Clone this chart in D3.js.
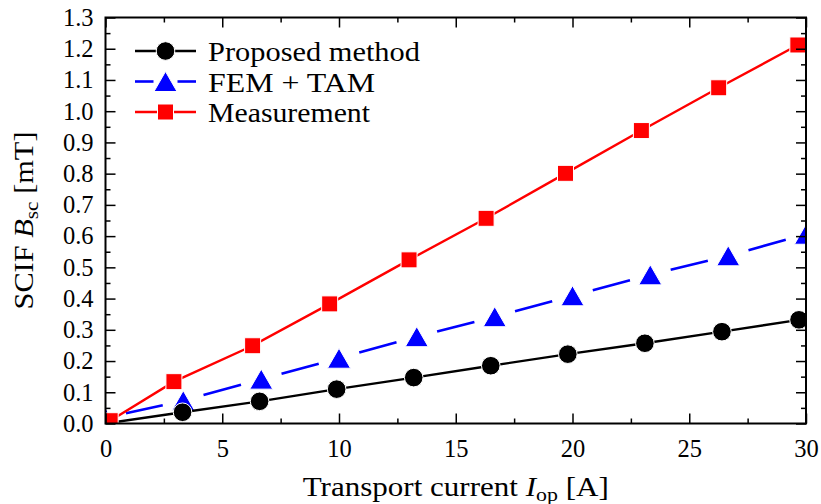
<!DOCTYPE html>
<html>
<head>
<meta charset="utf-8">
<script src="https://cdn.jsdelivr.net/npm/d3@7"></script>
<style>
  html, body { margin: 0; padding: 0; background: #fff; }
  svg { display: block; font-family: "Liberation Serif", "Times New Roman", serif; }
</style>
</head>
<body>
<svg id="chart" width="821" height="504"></svg>
<script>
// ---- Data ----
const proposedX = [0, 3.3, 6.6, 9.9, 13.2, 16.5, 19.8, 23.1, 26.4, 29.7];
const proposedY = [0, 0.036, 0.071, 0.11, 0.147, 0.185, 0.222, 0.257, 0.294, 0.332];

const femX = [0, 3.33, 6.67, 10, 13.33, 16.67, 20, 23.33, 26.67, 30];
const femY = [0.018, 0.073, 0.142, 0.209, 0.278, 0.342, 0.409, 0.476, 0.537, 0.606];

const measX = [0.2, 2.93, 6.3, 9.6, 13.0, 16.3, 19.7, 22.95, 26.26, 29.65];
const measY = [0.009, 0.134, 0.249, 0.383, 0.524, 0.657, 0.801, 0.938, 1.075, 1.212];

const seriesNames = ["Proposed method", "FEM + TAM", "Measurement"];

const xTicks = [0, 5, 10, 15, 20, 25, 30];
const xMinor = [2.5, 7.5, 12.5, 17.5, 22.5, 27.5];
const yTicks = [0, 0.1, 0.2, 0.3, 0.4, 0.5, 0.6, 0.7, 0.8, 0.9, 1.0, 1.1, 1.2, 1.3];
const yMinor = [0.05, 0.15, 0.25, 0.35, 0.45, 0.55, 0.65, 0.75, 0.85, 0.95, 1.05, 1.15, 1.25];

// ---- Layout ----
const L = 105.5, R = 806, T = 17.5, B = 423.5;
const svg = d3.select("#chart");
const x = d3.scaleLinear().domain([0, 30]).range([L, R]);
const y = d3.scaleLinear().domain([0, 1.3]).range([B, T]);

const zip = (xs, ys) => xs.map((v, i) => [v, ys[i]]);
const proposed = zip(proposedX, proposedY);
const fem = zip(femX, femY);
const meas = zip(measX, measY);

svg.append("defs").append("clipPath").attr("id", "clip")
  .append("rect").attr("x", L).attr("y", T).attr("width", R - L).attr("height", B - T);

const plot = svg.append("g").attr("clip-path", "url(#clip)");
const line = d3.line().x(d => x(d[0])).y(d => y(d[1]));

const triPath = (w, h) => `M0,${-h/2}L${w/2},${h/2}L${-w/2},${h/2}Z`;

// FEM + TAM: dashed, with gaps centred on markers
const gap = 21;
for (let i = 0; i < fem.length - 1; i++) {
  const a = fem[i], b = fem[i + 1];
  const len = Math.hypot(x(b[0]) - x(a[0]), y(b[1]) - y(a[1]));
  plot.append("path")
    .attr("d", line([a, b]))
    .attr("fill", "none").attr("stroke", "#0000ff").attr("stroke-width", 2.6)
    .attr("stroke-dasharray", `0,${gap},${Math.max(len - 2 * gap, 0)},${gap}`);
}
plot.selectAll(".tri").data(fem).enter().append("path")
  .attr("transform", d => `translate(${x(d[0])},${y(d[1])})`)
  .attr("d", triPath(23, 20))
  .attr("fill", "#0000ff").attr("stroke", "#fff").attr("stroke-width", 1);

// Proposed method: solid black with circles
plot.append("path").attr("d", line(proposed))
  .attr("fill", "none").attr("stroke", "#000").attr("stroke-width", 2.4);
plot.selectAll(".circ").data(proposed).enter().append("circle")
  .attr("cx", d => x(d[0])).attr("cy", d => y(d[1])).attr("r", 9.3)
  .attr("fill", "#000").attr("stroke", "#fff").attr("stroke-width", 1);

// Measurement: solid red with squares
plot.append("path").attr("d", line(meas))
  .attr("fill", "none").attr("stroke", "#ff0000").attr("stroke-width", 2.4);
plot.selectAll(".sq").data(meas).enter().append("rect")
  .attr("x", d => x(d[0]) - 8).attr("y", d => y(d[1]) - 8)
  .attr("width", 16).attr("height", 16)
  .attr("fill", "#ff0000").attr("stroke", "#fff").attr("stroke-width", 1);

// ---- Axes ----
function styleAxis(g) {
  g.select(".domain").remove();
  g.selectAll(".tick line").attr("stroke", "#000").attr("stroke-width", 1.5);
  g.selectAll("text").attr("font-family", "Liberation Serif, serif").attr("font-size", 24.5).attr("fill", "#000");
}
svg.append("g").attr("transform", `translate(0,${B})`)
  .call(d3.axisBottom(x).tickValues(xTicks).tickSizeInner(-10).tickSizeOuter(0).tickPadding(16).tickFormat(d3.format("d")))
  .call(styleAxis);
svg.append("g").attr("transform", `translate(0,${B})`)
  .call(d3.axisBottom(x).tickValues(xMinor).tickSizeInner(-5).tickSizeOuter(0).tickFormat(""))
  .call(styleAxis);
svg.append("g").attr("transform", `translate(0,${T})`)
  .call(d3.axisTop(x).tickValues(xTicks).tickSizeInner(-10).tickSizeOuter(0).tickFormat(""))
  .call(styleAxis);
svg.append("g").attr("transform", `translate(0,${T})`)
  .call(d3.axisTop(x).tickValues(xMinor).tickSizeInner(-5).tickSizeOuter(0).tickFormat(""))
  .call(styleAxis);
svg.append("g").attr("transform", `translate(${L},0)`)
  .call(d3.axisLeft(y).tickValues(yTicks).tickSizeInner(-10).tickSizeOuter(0).tickPadding(12).tickFormat(d3.format(".1f")))
  .call(styleAxis);
svg.append("g").attr("transform", `translate(${L},0)`)
  .call(d3.axisLeft(y).tickValues(yMinor).tickSizeInner(-5).tickSizeOuter(0).tickFormat(""))
  .call(styleAxis);
svg.append("g").attr("transform", `translate(${R},0)`)
  .call(d3.axisRight(y).tickValues(yTicks).tickSizeInner(-10).tickSizeOuter(0).tickFormat(""))
  .call(styleAxis);
svg.append("g").attr("transform", `translate(${R},0)`)
  .call(d3.axisRight(y).tickValues(yMinor).tickSizeInner(-5).tickSizeOuter(0).tickFormat(""))
  .call(styleAxis);

svg.append("rect").attr("x", L).attr("y", T).attr("width", R - L).attr("height", B - T)
  .attr("fill", "none").attr("stroke", "#000").attr("stroke-width", 2);

// ---- Axis labels ----
const xl = svg.append("text").attr("x", (L + R) / 2).attr("y", 496)
  .attr("text-anchor", "middle").attr("font-size", 27)
  .attr("textLength", 306).attr("lengthAdjust", "spacingAndGlyphs");
xl.append("tspan").text("Transport current ");
xl.append("tspan").attr("font-style", "italic").text("I");
xl.append("tspan").attr("font-size", 19).attr("dy", 5).text("op");
xl.append("tspan").attr("dy", -5).text(" [A]");

const yl = svg.append("text").attr("transform", `translate(33,${(T + B) / 2}) rotate(-90)`)
  .attr("text-anchor", "middle").attr("font-size", 27)
  .attr("textLength", 178).attr("lengthAdjust", "spacingAndGlyphs");
yl.append("tspan").text("SCIF ");
yl.append("tspan").attr("font-style", "italic").text("B");
yl.append("tspan").attr("font-size", 19).attr("dy", 5).text("sc");
yl.append("tspan").attr("dy", -5).text(" [mT]");

// ---- Legend ----
const lg = svg.append("g");
const rows = [51, 81.5, 112];
const lx0 = 135, lx1 = 196, lxm = 165.5;
const textW = [212, 167, 162];

// row 1: proposed
lg.append("line").attr("x1", lx0).attr("x2", lx1).attr("y1", rows[0]).attr("y2", rows[0])
  .attr("stroke", "#000").attr("stroke-width", 2.4);
lg.append("circle").attr("cx", lxm).attr("cy", rows[0]).attr("r", 9.3)
  .attr("fill", "#000").attr("stroke", "#fff").attr("stroke-width", 1);
// row 2: fem
lg.append("line").attr("x1", lx0).attr("x2", lxm - 12).attr("y1", rows[1]).attr("y2", rows[1])
  .attr("stroke", "#0000ff").attr("stroke-width", 2.6);
lg.append("line").attr("x1", lxm + 12).attr("x2", lx1).attr("y1", rows[1]).attr("y2", rows[1])
  .attr("stroke", "#0000ff").attr("stroke-width", 2.6);
lg.append("path").attr("transform", `translate(${lxm},${rows[1]})`).attr("d", triPath(23, 20))
  .attr("fill", "#0000ff").attr("stroke", "#fff").attr("stroke-width", 1);
// row 3: measurement
lg.append("line").attr("x1", lx0).attr("x2", lx1).attr("y1", rows[2]).attr("y2", rows[2])
  .attr("stroke", "#ff0000").attr("stroke-width", 2.4);
lg.append("rect").attr("x", lxm - 8).attr("y", rows[2] - 8).attr("width", 16).attr("height", 16)
  .attr("fill", "#ff0000").attr("stroke", "#fff").attr("stroke-width", 1);

seriesNames.forEach((name, i) => {
  lg.append("text").attr("x", 208).attr("y", rows[i] + 10)
    .attr("font-size", 27).attr("fill", "#000")
    .attr("textLength", textW[i]).attr("lengthAdjust", "spacingAndGlyphs")
    .text(name);
});
</script>
</body>
</html>
